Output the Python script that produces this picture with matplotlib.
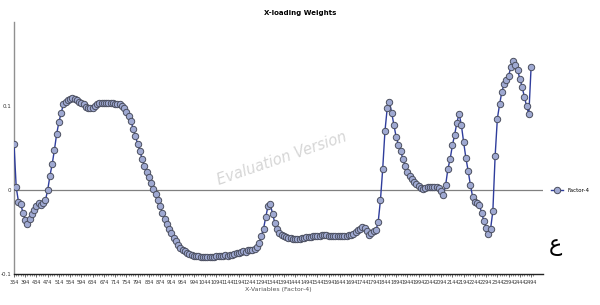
import matplotlib.pyplot as plt

# X-loading weights, factor 4
labels = [str(v) for v in range(354, 995, 40)] + [str(v) for v in range(1044, 2495, 50)]
weights = [
    0.055, 0.003, -0.014, -0.017, -0.027, -0.036, -0.040, -0.034, -0.029, -0.024,
    -0.019, -0.015, -0.018, -0.016, -0.012, 0.000, 0.017, 0.031, 0.048, 0.067,
    0.081, 0.092, 0.102, 0.105, 0.107, 0.108, 0.109, 0.108, 0.107, 0.105,
    0.103, 0.102, 0.099, 0.098, 0.097, 0.098, 0.100, 0.102, 0.103, 0.104,
    0.104, 0.104, 0.104, 0.103, 0.103, 0.102, 0.102, 0.102, 0.100, 0.097,
    0.093, 0.088, 0.082, 0.073, 0.064, 0.055, 0.046, 0.037, 0.029, 0.022,
    0.015, 0.008, 0.001, -0.005, -0.012, -0.019, -0.027, -0.034, -0.040, -0.046,
    -0.051, -0.057, -0.061, -0.066, -0.069, -0.071, -0.073, -0.075, -0.076, -0.077,
    -0.078, -0.079, -0.079, -0.080, -0.080, -0.080, -0.080, -0.080, -0.080, -0.080,
    -0.079, -0.079, -0.078, -0.078, -0.077, -0.078, -0.077, -0.077, -0.076, -0.075,
    -0.075, -0.074, -0.073, -0.074, -0.072, -0.072, -0.071, -0.070, -0.068, -0.063,
    -0.055, -0.046, -0.032, -0.019, -0.017, -0.028, -0.039, -0.046, -0.051, -0.053,
    -0.055, -0.056, -0.057, -0.057, -0.058, -0.058, -0.058, -0.058, -0.057, -0.057,
    -0.056, -0.056, -0.056, -0.055, -0.055, -0.055, -0.055, -0.054, -0.054, -0.054,
    -0.055, -0.055, -0.055, -0.055, -0.055, -0.055, -0.055, -0.055, -0.055, -0.054,
    -0.053, -0.052, -0.050, -0.048, -0.046, -0.044, -0.045, -0.049, -0.054, -0.051,
    -0.049, -0.048, -0.038, -0.012, 0.025, 0.070, 0.097, 0.105, 0.092, 0.077,
    0.063, 0.054, 0.046, 0.037, 0.028, 0.021, 0.017, 0.013, 0.010, 0.007,
    0.005, 0.002, 0.001, 0.002, 0.004, 0.003, 0.003, 0.004, 0.003, 0.002,
    -0.001, -0.006, 0.006, 0.025, 0.037, 0.053, 0.066, 0.080, 0.091, 0.077,
    0.057, 0.038, 0.023, 0.006, -0.008, -0.014, -0.016, -0.018, -0.027, -0.037,
    -0.045, -0.052, -0.046, -0.025, 0.040, 0.085, 0.102, 0.117, 0.126, 0.131,
    0.136, 0.146, 0.153, 0.149, 0.143, 0.132, 0.123, 0.111, 0.100, 0.090,
    0.146,
]
x = list(range(len(weights)))
font = 'DejaVu Sans'

fig = plt.figure(figsize=(6, 3.05), dpi=100)
ax = fig.add_axes([0.0233, 0.1016, 0.8817, 0.8264])

ax.axhline(0, color='#808080', lw=0.9, zorder=1)
ax.plot(x, weights, color='#2f3d9c', lw=1.0, marker='o', markersize=4.6,
        markerfacecolor='#9fa9d2', markeredgecolor='#4a4e5e', markeredgewidth=0.7,
        label='Factor-4', zorder=3)

ax.set_xlim(0, 235.3)
ax.set_ylim(-0.1, 0.2)
ax.set_xticks(range(0, 231, 5))
ax.set_xticklabels(labels, fontsize=3.5, family=font, color='#333333')
ax.set_xticks(range(0, 232), minor=True)
ax.tick_params(axis='x', which='major', length=2.5, width=0.5, pad=1.5, color='#333333')
ax.tick_params(axis='x', which='minor', length=1.5, width=0.4, color='#333333')
ax.set_yticks([-0.1, 0, 0.1])
ax.set_yticklabels(['-0.1', '0', '0.1'], fontsize=4, family=font, color='#333333')
ax.tick_params(axis='y', length=0, pad=2)

for s in ['top', 'right']:
    ax.spines[s].set_visible(False)
ax.spines['left'].set_color('#909090')
ax.spines['left'].set_linewidth(1.0)
ax.spines['bottom'].set_color('#222222')
ax.spines['bottom'].set_linewidth(1.0)

ax.set_xlabel('X-Variables (Factor-4)', fontsize=4.5, family=font, color='#555555', labelpad=2)
fig.text(0.5, 0.958, 'X-loading Weights', ha='center', va='center', fontsize=5,
         fontweight='bold', family=font)

ax.text(0.507, 0.456, 'Evaluation Version', transform=ax.transAxes, rotation=19,
        fontsize=10.5, style='italic', color='#d6d6d6', ha='center', va='center', zorder=0)

ax.legend(loc='center left', bbox_to_anchor=(1.005, 0.33), frameon=False,
          handlelength=2.2, prop={'family': font, 'size': 4})
fig.text(0.925, 0.195, 'ع', fontsize=16, ha='center', va='center', family=font)

fig.savefig('out.png', dpi=100)
